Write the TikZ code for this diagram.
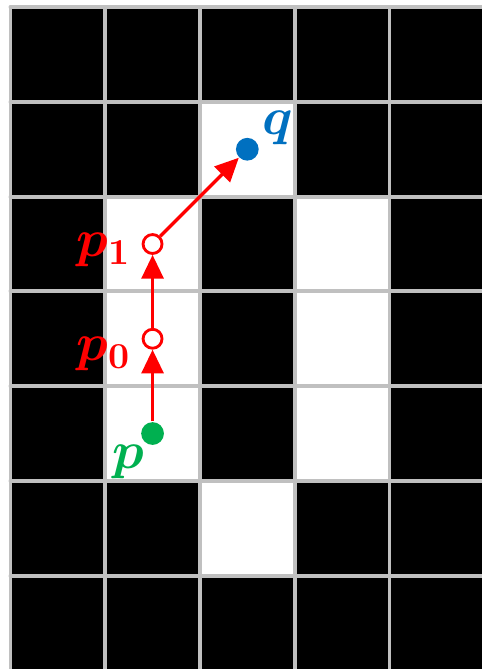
\documentclass[tikz,border=0pt]{standalone}
\usepackage{tikz}
\usetikzlibrary{positioning, arrows.meta}
\definecolor{gridgray}{HTML}{C0C0C0}
\definecolor{ptred}{HTML}{FF0000}
\definecolor{ptgreen}{HTML}{00B050}
\definecolor{ptblue}{HTML}{0070C0}

\begin{document}
\begin{tikzpicture}[
  gridline/.style={
    draw=gridgray,
    line width=1.15pt,
    line cap=round,
  },
  fulldot/.style={
    circle,
    inner sep=0pt,
    minimum size=0.24cm,
  },
  opendot/.style={
    circle,
    draw=ptred,
    line width=0.85pt,
    fill=white,
    inner sep=0pt,
    minimum size=0.2cm,
  },
  move/.style={
    -{Triangle[length=0.25cm, width=0.23cm]},
    draw=ptred,
    line width=1pt,
  },
  ptlabel/.style={
    font=\Large\boldmath,
    scale=1.1,
    inner sep=1pt,
  },
]
  \useasboundingbox (-0.11,0.015) rectangle (4.975,7.075);

  % cells
  \fill[black] (0,0) rectangle (5,7);
  \foreach \x/\y in {2/5, 1/4, 3/4, 1/3, 3/3, 1/2, 3/2, 2/1}
    \fill[white] (\x,\y) rectangle ++(1,1);
  \foreach \i in {0,...,5}
    \draw[gridline] (\i,0) -- (\i,7);
  \foreach \j in {0,...,7}
    \draw[gridline] (0,\j) -- (5,\j);

  % points
  \node[fulldot, fill=ptgreen] (p) at (1.5,2.5) {};
  \node[opendot] (p0) at (1.5,3.5) {};
  \node[opendot] (p1) at (1.5,4.5) {};
  \node[fulldot, fill=ptblue] (q) at (2.5,5.5) {};

  \node[ptlabel, text=ptgreen] (plab) at (1.24,2.2) {$p$};
  \node[ptlabel, text=ptred, anchor=east] (p0lab) at (1.32,3.34) {$p_0$};
  \node[ptlabel, text=ptred, anchor=east] (p1lab) at (1.32,4.44) {$p_1$};
  \node[ptlabel, text=ptblue] (qlab) at (2.82,5.73) {$q$};

  \draw[move] (p) -- (p0);
  \draw[move] (p0) -- (p1);
  \draw[move] (p1) -- (q);
\end{tikzpicture}
\end{document}
